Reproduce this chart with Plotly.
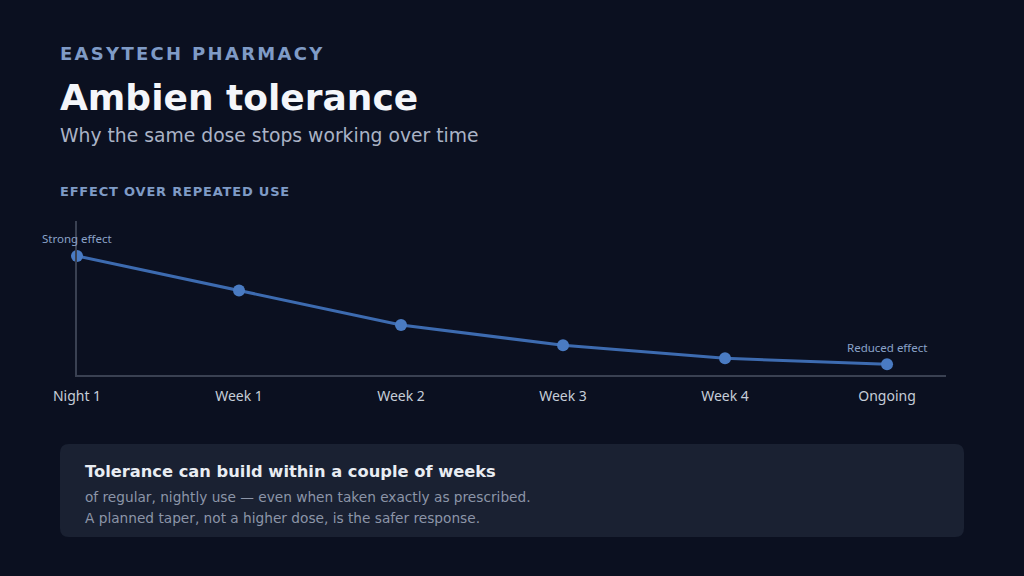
import plotly.graph_objects as go

# ---- data ----
categories = ["Night 1", "Week 1", "Week 2", "Week 3", "Week 4", "Ongoing"]
effect = [100, 71, 42, 25, 14, 9]
label_strong = "Strong effect"
label_reduced = "Reduced effect"

W, H = 1024, 576
L, R, T, B = 77, 946, 221, 375  # plot area in pixels


def px(x):
    return (x - L) / (R - L)


def py(y):
    return (B - y) / (B - T)


BG = "#0b1020"
CARD = "#1a2132"
ACCENT = "#7f9bc6"
LINE = "#3d6bb0"
MARK = "#4a7bc2"

fig = go.Figure()
fig.add_trace(go.Scatter(
    x=categories, y=effect, mode="lines+markers",
    line=dict(color=LINE, width=3),
    marker=dict(color=MARK, size=12),
    cliponaxis=False, hoverinfo="skip", showlegend=False,
))

ann = []
ann.append(dict(x=categories[0], y=effect[0], xref="x", yref="y", text=label_strong,
                showarrow=False, yshift=17, font=dict(family="Noto Sans", size=11.5, color="#8aa2c8")))
ann.append(dict(x=categories[-1], y=effect[-1], xref="x", yref="y", text=label_reduced,
                showarrow=False, yshift=17, font=dict(family="Noto Sans", size=11.5, color="#8aa2c8")))


def txt(x, y, text, size, color, bold=False, family="DejaVu Sans", spacing=None):
    t = text
    if spacing is not None:
        t = f'<span style="letter-spacing:{spacing}px">{text}</span>'
    if bold:
        t = f"<b>{t}</b>"
    ann.append(dict(x=px(x - 2), y=py(y), xref="paper", yref="paper", xanchor="left", yanchor="middle",
                    text=t, showarrow=False, font=dict(family=family, size=size, color=color)))


txt(60, 53, "EASYTECH PHARMACY", 18, ACCENT, bold=True, spacing=2.3)
txt(60, 97, "Ambien tolerance", 36, "#f4f6fa", bold=True)
txt(60, 135, "Why the same dose stops working over time", 18.75, "#aab3c6")
txt(60, 191, "EFFECT OVER REPEATED USE", 13, ACCENT, bold=True, spacing=0.8)
txt(85, 471, "Tolerance can build within a couple of weeks", 16.3, "#e9edf3", bold=True)
txt(85, 497, "of regular, nightly use \u2014 even when taken exactly as prescribed.", 13.7, "#8c95a8")
txt(85, 518, "A planned taper, not a higher dose, is the safer response.", 13.7, "#8c95a8")

# rounded card
x0, x1, y0, y1, r = 60, 964, 444, 537, 9
path = (f"M {px(x0 + r)} {py(y0)} L {px(x1 - r)} {py(y0)} Q {px(x1)} {py(y0)} {px(x1)} {py(y0 + r)} "
        f"L {px(x1)} {py(y1 - r)} Q {px(x1)} {py(y1)} {px(x1 - r)} {py(y1)} "
        f"L {px(x0 + r)} {py(y1)} Q {px(x0)} {py(y1)} {px(x0)} {py(y1 - r)} "
        f"L {px(x0)} {py(y0 + r)} Q {px(x0)} {py(y0)} {px(x0 + r)} {py(y0)} Z")
shapes = [dict(type="path", path=path, xref="paper", yref="paper", fillcolor=CARD,
               line=dict(width=0), layer="below")]

fig.update_layout(
    width=W, height=H,
    margin=dict(l=L, r=W - R, t=T, b=H - B, pad=0),
    paper_bgcolor=BG, plot_bgcolor=BG,
    annotations=ann, shapes=shapes,
    xaxis=dict(type="category", range=[0, 5.364], showgrid=False, zeroline=False,
               showline=True, linecolor="#3a4152", linewidth=1.5, ticks="",
               ticklabelstandoff=7,
               tickfont=dict(family="Noto Sans", size=14, color="#c6cdd8"), fixedrange=True),
    yaxis=dict(range=[0, 129.4], showgrid=False, zeroline=False, showline=True,
               linecolor="#3a4152", linewidth=1.5, showticklabels=False, ticks="", fixedrange=True),
)

fig.write_html("out.html", config={"displayModeBar": False},
               post_script="document.body.style.margin='0px';document.body.style.background='#0b1020';")
